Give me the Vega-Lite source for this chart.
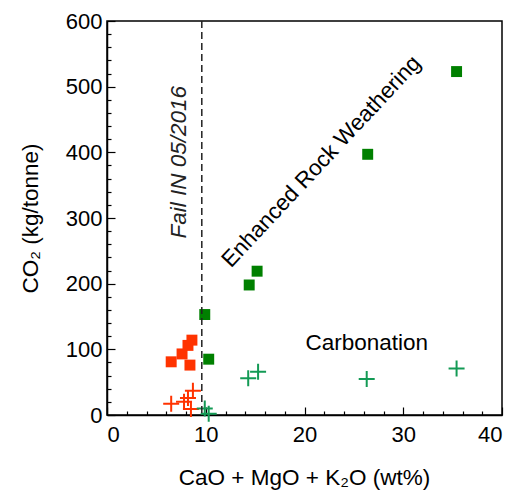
{
  "$schema": "https://vega.github.io/schema/vega-lite/v6.json",
  "width": 395,
  "height": 394,
  "autosize": {"type": "none"},
  "padding": {"left": 107, "top": 21, "right": 7, "bottom": 75},
  "config": {
    "font": "Liberation Sans",
    "view": {"stroke": "#000", "strokeWidth": 1.5},
    "axis": {"grid": false, "domainColor": "#000", "tickColor": "#000", "labelColor": "#000", "titleColor": "#000", "labelFont": "Liberation Sans", "titleFont": "Liberation Sans", "labelFontSize": 22, "titleFontSize": 22.5, "titleFontWeight": "normal", "domainWidth": 1.5, "tickWidth": 1.2}
  },
  "datasets": {
    "pts": [
      {"x": 6.5, "y": 81, "series": "A"},
      {"x": 7.6, "y": 93, "series": "A"},
      {"x": 8.2, "y": 106, "series": "A"},
      {"x": 8.6, "y": 114, "series": "A"},
      {"x": 8.4, "y": 76, "series": "A"},
      {"x": 9.9, "y": 153, "series": "B"},
      {"x": 10.3, "y": 85, "series": "B"},
      {"x": 14.4, "y": 198, "series": "B"},
      {"x": 15.2, "y": 219, "series": "B"},
      {"x": 26.4, "y": 397, "series": "B"},
      {"x": 35.4, "y": 523, "series": "B"},
      {"x": 6.5, "y": 17, "series": "C"},
      {"x": 7.8, "y": 20, "series": "C"},
      {"x": 8.2, "y": 26, "series": "C"},
      {"x": 8.5, "y": 9, "series": "C"},
      {"x": 8.7, "y": 37, "series": "C"},
      {"x": 9.9, "y": 10, "series": "D"},
      {"x": 10.3, "y": 2, "series": "D"},
      {"x": 14.3, "y": 56, "series": "D"},
      {"x": 15.3, "y": 66, "series": "D"},
      {"x": 26.3, "y": 55, "series": "D"},
      {"x": 35.4, "y": 71, "series": "D"}
    ]
  },
  "resolve": {"axis": {"x": "independent", "y": "independent"}},
  "layer": [
    {
      "data": {"name": "pts"},
      "transform": [{"filter": "datum.series === 'A' || datum.series === 'B'"}],
      "mark": {"type": "square", "filled": true, "opacity": 1, "size": 120},
      "encoding": {
        "x": {"field": "x", "type": "quantitative", "scale": {"domain": [0, 40], "nice": false, "zero": false},
          "axis": {"orient": "bottom", "values": [0, 10, 20, 30, 40], "tickSize": -8, "labelPadding": 17, "title": "CaO + MgO + K₂O (wt%)", "titleY": 62, "titleBaseline": "middle", "titleX": 197}},
        "y": {"field": "y", "type": "quantitative", "scale": {"domain": [0, 600], "nice": false, "zero": false},
          "axis": {"orient": "left", "values": [0, 100, 200, 300, 400, 500, 600], "tickSize": -8, "labelPadding": 13, "title": "CO₂ (kg/tonne)", "titleAngle": 270, "titleX": -77, "titleY": 197, "titleBaseline": "middle", "titleAlign": "center"}},
        "color": {"field": "series", "type": "nominal", "scale": {"domain": ["A", "B", "C", "D"], "range": ["#ff3300", "#008000", "#ff3300", "#139a55"]}, "legend": null}
      }
    },
    {
      "data": {"name": "pts"},
      "transform": [{"filter": "datum.series === 'C' || datum.series === 'D'"}],
      "mark": {"type": "point", "filled": false, "shape": "M-1,0L1,0M0,-1L0,1", "size": 256, "strokeWidth": 2, "opacity": 1},
      "encoding": {
        "x": {"field": "x", "type": "quantitative",
          "axis": {"orient": "bottom", "values": [2, 4, 6, 8, 12, 14, 16, 18, 22, 24, 26, 28, 32, 34, 36, 38], "tickSize": -4, "labels": false, "domain": false, "title": null}},
        "y": {"field": "y", "type": "quantitative",
          "axis": {"orient": "left", "values": [20, 40, 60, 80, 120, 140, 160, 180, 220, 240, 260, 280, 320, 340, 360, 380, 420, 440, 460, 480, 520, 540, 560, 580], "tickSize": -4, "labels": false, "domain": false, "title": null}},
        "color": {"field": "series", "type": "nominal", "scale": {"domain": ["A", "B", "C", "D"], "range": ["#ff3300", "#008000", "#ff3300", "#139a55"]}, "legend": null}
      }
    },
    {
      "data": {"values": [{"x": 9.6}]},
      "mark": {"type": "rule", "color": "#222", "strokeWidth": 1.5, "strokeDash": [7, 4]},
      "encoding": {
        "x": {"field": "x", "type": "quantitative", "axis": null}
      }
    },
    {
      "data": {"values": [{"x": 7.3, "y": 385, "label": "Fail IN 05/2016"}]},
      "mark": {"type": "text", "angle": 270, "fontSize": 22.5, "fontStyle": "italic", "align": "center", "baseline": "middle", "color": "#222"},
      "encoding": {
        "x": {"field": "x", "type": "quantitative", "axis": null},
        "y": {"field": "y", "type": "quantitative", "axis": null},
        "text": {"field": "label"}
      }
    },
    {
      "data": {"values": [{"x": 21.7, "y": 386, "label": "Enhanced Rock Weathering"}]},
      "mark": {"type": "text", "angle": 313, "fontSize": 22.5, "align": "center", "baseline": "middle", "color": "#000"},
      "encoding": {
        "x": {"field": "x", "type": "quantitative", "axis": null},
        "y": {"field": "y", "type": "quantitative", "axis": null},
        "text": {"field": "label"}
      }
    },
    {
      "data": {"values": [{"x": 26.3, "y": 110, "label": "Carbonation"}]},
      "mark": {"type": "text", "fontSize": 22.5, "align": "center", "baseline": "middle", "color": "#000"},
      "encoding": {
        "x": {"field": "x", "type": "quantitative", "axis": null},
        "y": {"field": "y", "type": "quantitative", "axis": null},
        "text": {"field": "label"}
      }
    }
  ]
}
